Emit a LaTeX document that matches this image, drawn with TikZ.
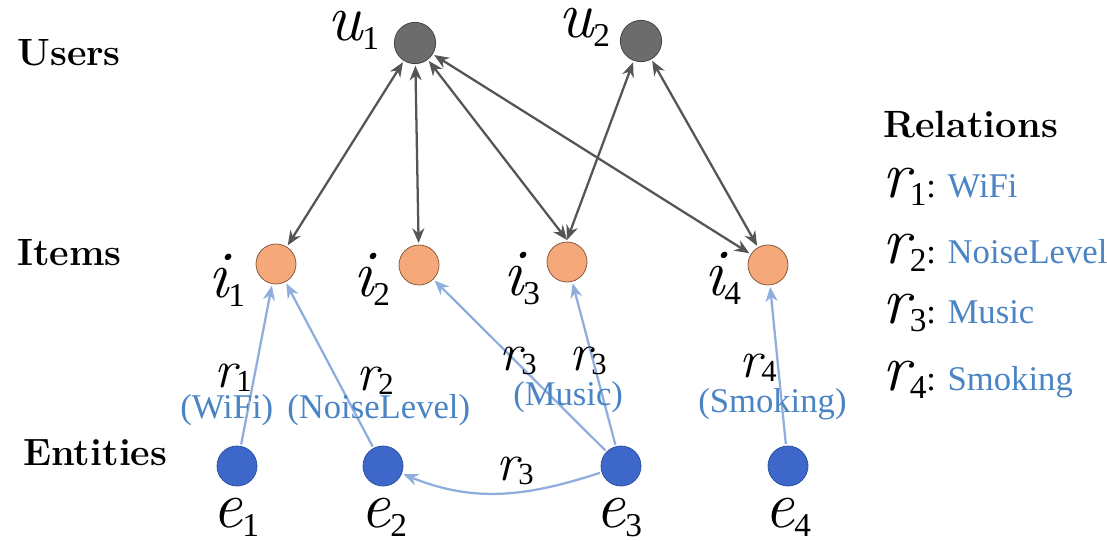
\documentclass[tikz,border=0pt]{standalone}
\usepackage{fontspec}
\setmainfont{Liberation Serif}
\newfontfamily\lmfont{Latin Modern Roman}
\usetikzlibrary{arrows.meta}
\definecolor{ugray}{HTML}{6C6C6C}
\definecolor{ugrayd}{HTML}{454545}
\definecolor{iorange}{HTML}{F5A97B}
\definecolor{iorangd}{HTML}{8A5A3C}
\definecolor{eblue}{HTML}{3D67C8}
\definecolor{eblued}{HTML}{2E52A6}
\definecolor{lblue}{HTML}{8FADDD}
\definecolor{tblue}{HTML}{4A84C4}
\definecolor{agray}{HTML}{555555}
\newcommand\biglab[2]{{\fontsize{50}{50}\lmfont\itshape #1}{\fontsize{25}{25}\selectfont\raisebox{-7pt}{#2}}}
\newcommand\leglab[2]{{\fontsize{50}{50}\lmfont\itshape #1}{\fontsize{25}{25}\selectfont\raisebox{-6pt}{#2}}}
\newcommand\edgelab[2]{{\fontsize{40}{40}\lmfont\itshape #1}{\fontsize{23}{23}\selectfont\raisebox{-3pt}{#2}}}
\tikzset{
  usernode/.style={circle, minimum size=31pt, inner sep=0pt, fill=ugray, draw=ugrayd, line width=0.6pt, outer sep=1.5pt},
  itemnode/.style={circle, minimum size=30pt, inner sep=0pt, fill=iorange, draw=iorangd, line width=0.6pt, outer sep=1.5pt},
  entnode/.style={circle, minimum size=30pt, inner sep=0pt, fill=eblue, draw=eblued, line width=0.6pt, outer sep=1.5pt},
  txt/.style={inner sep=0pt, anchor=base west},
  symlab/.style={txt, text height=24pt, text depth=8pt},
  rowlab/.style={txt, font=\fontsize{28.5}{28.5}\lmfont\bfseries},
  bluetxt/.style={txt, text=tblue, font=\fontsize{26}{26}\selectfont},
  interact/.style={draw=agray, line width=1.7pt, {Stealth[length=11pt,width=9pt]}-{Stealth[length=11pt,width=9pt]}},
  relarrow/.style={draw=lblue, line width=1.7pt, -{Stealth[length=11pt,width=9pt]}}
}
\begin{document}
\begin{tikzpicture}[x=0.75pt,y=-0.75pt]
\useasboundingbox (0,0) rectangle (1107,540);
% row labels
\node[rowlab] (lu) at (17,65) {Users};
\node[rowlab] (li) at (17,265) {Items};
\node[rowlab] (le) at (23,465) {Entities};
% nodes
\node[usernode] (u1) at (415,43) {};
\node[usernode] (u2) at (641,41) {};
\node[itemnode] (i1) at (276,264) {};
\node[itemnode] (i2) at (419,265) {};
\node[itemnode] (i3) at (567,262) {};
\node[itemnode] (i4) at (768,265) {};
\node[entnode] (e1) at (237,466) {};
\node[entnode] (e2) at (383,466) {};
\node[entnode] (e3) at (621,466) {};
\node[entnode] (e4) at (788,466) {};
% node labels
\node[symlab] (tu1) at (327,40) {\biglab{u}{1}};
\node[symlab] (tu2) at (558,37) {\biglab{u}{2}};
\node[symlab] (ti1) at (208,297) {\biglab{i}{1}};
\node[symlab] (ti2) at (353,296) {\biglab{i}{2}};
\node[symlab] (ti3) at (503,295) {\biglab{i}{3}};
\node[symlab] (ti4) at (704,295) {\biglab{i}{4}};
\node[symlab] (te1) at (212,527) {\biglab{e}{1}};
\node[symlab] (te2) at (360,527) {\biglab{e}{2}};
\node[symlab] (te3) at (595,527) {\biglab{e}{3}};
\node[symlab] (te4) at (764,527) {\biglab{e}{4}};
% interactions
\draw[interact] (u1) -- (i1);
\draw[interact] (u1) -- (i2);
\draw[interact] (u1) -- (i3.north);
\draw[interact] (u1) -- (i4);
\draw[interact] (u2) -- (i3.north);
\draw[interact] (u2) -- (i4);
% relations
\draw[relarrow] (e1) -- (i1);
\draw[relarrow] (e2) -- (i1);
\draw[relarrow] (e3) -- (i2);
\draw[relarrow] (e3) -- (i3);
\draw[relarrow] (e4) -- (i4);
\draw[relarrow] (e3) to[out=198,in=-22] (e2);
% edge labels
\node[txt] (r1) at (214,387) {\edgelab{r}{1}};
\node[txt] (r2) at (356,390) {\edgelab{r}{2}};
\node[txt] (r3a) at (499,370) {\edgelab{r}{3}};
\node[txt] (r3b) at (569,370) {\edgelab{r}{3}};
\node[txt] (r3c) at (496,480) {\edgelab{r}{3}};
\node[txt] (r4) at (739,377) {\edgelab{r}{4}};
\node[bluetxt] (b1) at (180,418) {(WiFi)};
\node[bluetxt] (b2) at (287,418) {(NoiseLevel)};
\node[bluetxt] (b3) at (513,405) {(Music)};
\node[bluetxt] (b4) at (698,412) {(Smoking)};
% legend
\node[rowlab] (rel) at (883,137) {Relations};
\node[txt] (g1) at (882,197) {\leglab{r}{1}{\fontsize{26}{26}\selectfont: \textcolor{tblue}{WiFi}}};
\node[txt] (g2) at (882,263) {\leglab{r}{2}{\fontsize{26}{26}\selectfont: \textcolor{tblue}{NoiseLevel}}};
\node[txt] (g3) at (882,323) {\leglab{r}{3}{\fontsize{26}{26}\selectfont: \textcolor{tblue}{Music}}};
\node[txt] (g4) at (882,390) {\leglab{r}{4}{\fontsize{26}{26}\selectfont: \textcolor{tblue}{Smoking}}};
\end{tikzpicture}
\end{document}
